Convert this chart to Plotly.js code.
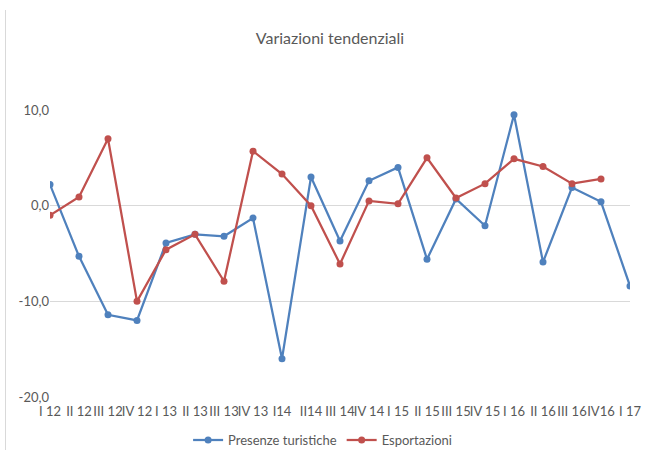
<!DOCTYPE html>
<html>
<head>
<meta charset="utf-8">
<script src="https://cdn.plot.ly/plotly-3.0.1.min.js"></script>
<style>
html,body{margin:0;padding:0;background:#fff;}
#wrap{position:relative;width:647px;height:450px;}
#edge{position:absolute;left:5px;top:10px;width:1px;height:440px;background:#d9d9d9;}
#chart{position:absolute;left:0;top:0;width:647px;height:450px;}
</style>
</head>
<body>
<div id="wrap"><div id="chart"></div><div id="edge"></div></div>
<script>
const categories = ["I 12","II 12","III 12","IV 12","I 13","II 13","III 13","IV 13","I14","II14","III 14","IV 14","I 15","II 15","III 15","IV 15","I 16","II 16","III 16","IV16","I 17"];
const presenze = [2.2,-5.3,-11.4,-12.0,-3.9,-3.0,-3.2,-1.3,-16.0,3.0,-3.7,2.6,4.0,-5.6,0.7,-2.1,9.5,-5.9,1.9,0.4,-8.4];
const esportazioni = [-1.0,0.9,7.0,-10.0,-4.6,-3.0,-7.9,5.7,3.3,0.0,-6.1,0.5,0.2,5.0,0.8,2.3,4.9,4.1,2.3,2.8,null];
const yTickVals = [-20,-10,0,10];
const yTickText = ["-20,0","-10,0","0,0","10,0"];

const font = "Lato, 'Open Sans', sans-serif";
const traces = [
  {x: categories, y: presenze, name: "Presenze turistiche", type: "scatter", mode: "lines+markers",
   line: {color: "#4F81BD", width: 2.25}, marker: {color: "#4F81BD", size: 7}},
  {x: categories, y: esportazioni, name: "Esportazioni", type: "scatter", mode: "lines+markers",
   line: {color: "#C0504D", width: 2.25}, marker: {color: "#C0504D", size: 7}}
];
const layout = {
  width: 647, height: 450,
  margin: {l: 50, r: 17, t: 110, b: 53, autoexpand: false},
  paper_bgcolor: "#fff", plot_bgcolor: "#fff",
  font: {family: font, color: "#595959", size: 13},
  title: {text: "Variazioni tendenziali", font: {family: font, size: 16, color: "#595959"}, x: 0.51, xanchor: "center", y: 0.915, yanchor: "middle"},
  xaxis: {type: "category", range: [0, 20], showgrid: false, zeroline: false, showline: false,
          tickfont: {family: font, size: 13, color: "#595959"}, ticks: "", ticklabelstandoff: 5, tickangle: 0, automargin: false},
  yaxis: {range: [-20, 10], tickvals: yTickVals, ticktext: yTickText, showgrid: true, gridcolor: "#d9d9d9",
          zeroline: false, showline: false, ticks: "", tickfont: {family: font, size: 13, color: "#595959"}, automargin: false},
  showlegend: true,
  legend: {orientation: "h", x: 0.47, xanchor: "center", y: -0.15, yanchor: "middle", itemwidth: 30,
           font: {family: font, size: 13, color: "#595959"}}
};
Plotly.newPlot("chart", traces, layout, {displayModeBar: false, staticPlot: true});
</script>
</body>
</html>
